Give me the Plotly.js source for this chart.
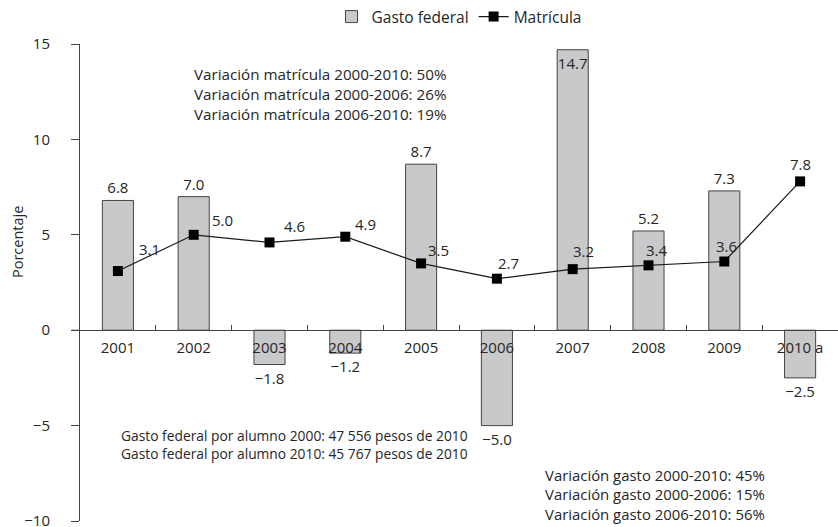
<!DOCTYPE html>
<html>
<head>
<meta charset="utf-8">
<script src="https://cdn.plot.ly/plotly-3.0.1.min.js"></script>
<style>html,body{margin:0;padding:0;background:#fff;}#chart{width:838px;height:527px;}</style>
</head>
<body>
<div id="chart"></div>
<script>
// ---- data ----
const years = ['2001', '2002', '2003', '2004', '2005', '2006', '2007', '2008', '2009', '2010 a'];
const gastoFederal = [6.8, 7.0, -1.8, -1.2, 8.7, -5.0, 14.7, 5.2, 7.3, -2.5];
const matricula = [3.1, 5.0, 4.6, 4.9, 3.5, 2.7, 3.2, 3.4, 3.6, 7.8];
const notaMatricula = ['Variación matrícula 2000-2010: 50%', 'Variación matrícula 2000-2006: 26%', 'Variación matrícula 2006-2010: 19%'];
const notaAlumno = ['Gasto federal por alumno 2000: 47 556 pesos de 2010', 'Gasto federal por alumno 2010: 45 767 pesos de 2010'];
const notaGasto = ['Variación gasto 2000-2010: 45%', 'Variación gasto 2000-2006: 15%', 'Variación gasto 2006-2010: 56%'];

// ---- label placement (pixels) ----
const lineLabelDx = [32, 29, 25, 20, 17, 12, 11, 8, 2, 0];
const lineLabelDy = [22, 15, 16, 13, 13, 16, 18, 15, 16, 17];

const FONT = 'Open Sans, Noto Sans, sans-serif';
const TXT = '#262626';
const fmt = v => (v < 0 ? '\u2212' + Math.abs(v).toFixed(1) : v.toFixed(1));

// pixel -> paper helpers (plot area: x 80..838, y 44..521)
const L = 80, T = 44, W = 758, H = 477;
const px = p => (p - L) / W;
const py = p => 1 - (p - T) / H;

const barPos = gastoFederal.map(v => (v > 12 ? 'inside' : 'outside'));

const traces = [
  {
    type: 'bar', name: 'Gasto federal', x: years, y: gastoFederal,
    width: 0.41,
    marker: {color: '#c8c9cb', line: {color: '#444', width: 1}},
    text: gastoFederal.map(fmt), textposition: barPos, textangle: 0,
    insidetextanchor: 'end', constraintext: 'none', cliponaxis: false,
    textfont: {family: FONT, size: 15, color: TXT},
    insidetextfont: {family: FONT, size: 15, color: TXT},
    outsidetextfont: {family: FONT, size: 15, color: TXT}
  },
  {
    type: 'scatter', mode: 'lines+markers', name: 'Matrícula', x: years, y: matricula,
    line: {color: '#1a1a1a', width: 1.2},
    marker: {symbol: 'square', size: 10, color: '#000'},
    cliponaxis: false
  }
];

// category index positions (numeric) so year-like names are not read as numbers
const annotations = matricula.map((v, i) => ({
  x: i, y: v, xref: 'x', yref: 'y', text: v.toFixed(1), showarrow: false,
  xshift: lineLabelDx[i], yshift: lineLabelDy[i],
  font: {family: FONT, size: 15, color: TXT}
}));

annotations.push({xref: 'paper', yref: 'paper', x: px(17), y: py(242), xanchor: 'center', yanchor: 'middle',
  text: 'Porcentaje', textangle: -90, showarrow: false, font: {family: FONT, size: 14.5, color: TXT}});

function block(lines, left, top, size) {
  annotations.push({
    xref: 'paper', yref: 'paper', x: px(left), y: py(top),
    xanchor: 'left', yanchor: 'top', align: 'left', text: lines.join('<br>'), showarrow: false,
    borderpad: 0, font: {family: FONT, size: size, color: TXT}
  });
}
block(notaMatricula, 193, 63, 15.2);
block(notaAlumno, 120, 425, 13.8);
block(notaGasto, 544, 464, 14.9);

const layout = {
  width: 838, height: 527,
  margin: {l: 80, r: 0, t: 44, b: 6},
  paper_bgcolor: '#fff', plot_bgcolor: '#fff',
  font: {family: FONT, size: 15, color: TXT},
  showlegend: true,
  legend: {orientation: 'h', x: px(459), xanchor: 'center', y: py(17), yanchor: 'middle',
           font: {family: FONT, size: 15.5, color: TXT}, bgcolor: 'rgba(0,0,0,0)'},
  xaxis: {
    type: 'category', range: [-0.5, 9.5], anchor: 'free', position: 0.4,
    showline: true, linecolor: '#444', linewidth: 1,
    ticks: 'inside', tickson: 'boundaries', ticklen: 5, tickcolor: '#444',
    showgrid: false, zeroline: false, tickangle: 0, ticklabelstandoff: 4,
    tickfont: {family: FONT, size: 15, color: TXT}
  },
  yaxis: {
    range: [-10, 15], tickvals: [-10, -5, 0, 5, 10, 15],
    showline: true, linecolor: '#444', linewidth: 1,
    ticks: 'outside', ticklen: 8, tickcolor: '#444',
    showgrid: false, zeroline: false, ticklabelstandoff: 18, ticklabeloverflow: 'allow',
    tickfont: {family: FONT, size: 15, color: TXT}
  },
  shapes: [
    {type: 'line', xref: 'paper', yref: 'paper', x0: -0.011, x1: 0, y0: 0.4, y1: 0.4,
     line: {color: '#444', width: 1}}
  ],
  annotations: annotations
};

Plotly.newPlot('chart', traces, layout, {displayModeBar: false, staticPlot: true});
</script>
</body>
</html>
